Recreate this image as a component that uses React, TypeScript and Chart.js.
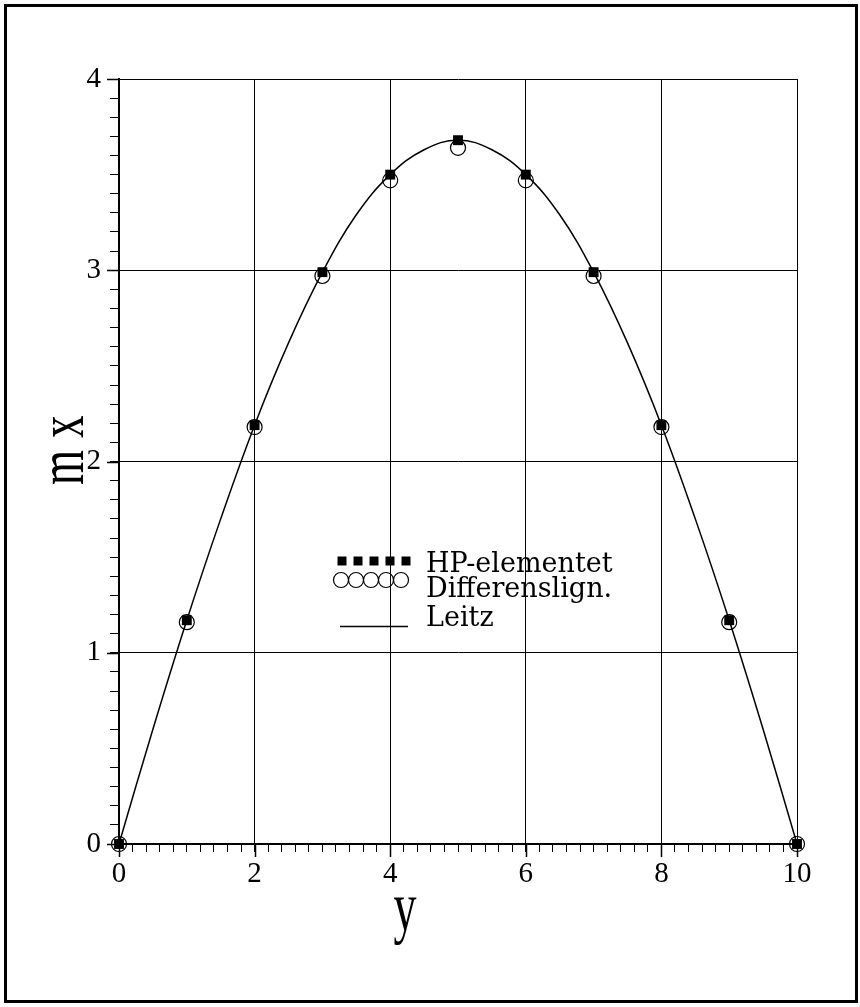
import React, { useEffect, useRef } from "react";
import { Chart, registerables } from "chart.js";

Chart.register(...registerables);

// ---- data ----
const xCategories = [0, 1, 2, 3, 4, 5, 6, 7, 8, 9, 10];
const hpValues = [0, 1.17, 2.19, 2.99, 3.5, 3.68, 3.5, 2.99, 2.19, 1.17, 0];
const diffValues = [0, 1.16, 2.18, 2.97, 3.47, 3.64, 3.47, 2.97, 2.18, 1.16, 0];
const leitzX = [0, 0.5, 1, 1.5, 2, 2.5, 3, 3.5, 4, 4.5, 5, 5.5, 6, 6.5, 7, 7.5, 8, 8.5, 9, 9.5, 10];
const leitzValues = [0, 0.6, 1.17, 1.7, 2.19, 2.62, 2.99, 3.29, 3.5, 3.63, 3.68, 3.63, 3.5, 3.29, 2.99, 2.62, 2.19, 1.7, 1.17, 0.6, 0];
const xTickLabels = [0, 2, 4, 6, 8, 10];
const yTickLabels = [0, 1, 2, 3, 4];
const seriesNames = ["HP-elementet", "Differenslign.", "Leitz"];
const xTitle = "y";
const yTitle = "mx";

const near = (v: number, arr: number[]) => arr.some((a) => Math.abs(a - v) < 1e-6);

const decorPlugin = {
  id: "decor",
  afterDraw(chart: any) {
    const { ctx, scales } = chart;
    const x = scales.x;
    const y = scales.y;
    ctx.save();
    // outer frame
    ctx.strokeStyle = "#000";
    ctx.lineWidth = 3;
    ctx.strokeRect(5.5, 5.5, 851, 996);

    // longer major ticks
    ctx.lineWidth = 1.5;
    ctx.beginPath();
    xTickLabels.forEach((v) => {
      const px = Math.round(x.getPixelForValue(v)) + 0.5;
      ctx.moveTo(px, y.bottom);
      ctx.lineTo(px, y.bottom + 13);
    });
    yTickLabels.forEach((v) => {
      const py = Math.round(y.getPixelForValue(v)) + 0.5;
      ctx.moveTo(x.left - 12, py);
      ctx.lineTo(x.left, py);
    });
    ctx.stroke();

    ctx.fillStyle = "#000";
    // axis titles (tall serif)
    ctx.font = "46px 'Liberation Serif'";
    ctx.textAlign = "center";
    ctx.textBaseline = "alphabetic";
    ctx.save();
    ctx.translate(405, 930);
    ctx.scale(1, 1.5);
    ctx.fillText(xTitle, 0, 0);
    ctx.restore();

    ctx.font = "45px 'Liberation Serif'";
    ctx.save();
    ctx.translate(83, 485);
    ctx.rotate(-Math.PI / 2);
    ctx.scale(1, 1.45);
    ctx.textAlign = "left";
    (ctx as any).letterSpacing = "12px";
    ctx.fillText(yTitle, 0, 0);
    ctx.restore();

    // legend
    for (let i = 0; i < 5; i++) {
      ctx.fillRect(342 + 16 * i - 4.5, 561 - 4.5, 9, 9);
    }
    ctx.lineWidth = 1.2;
    for (let i = 0; i < 5; i++) {
      ctx.beginPath();
      ctx.arc(341 + 15 * i, 580, 7.5, 0, Math.PI * 2);
      ctx.stroke();
    }
    ctx.lineWidth = 1.3;
    ctx.beginPath();
    ctx.moveTo(340, 626.5);
    ctx.lineTo(408, 626.5);
    ctx.stroke();

    ctx.font = "27px 'DejaVu Serif'";
    ctx.textAlign = "left";
    ctx.fillText(seriesNames[0], 426, 572);
    ctx.fillText(seriesNames[1], 426, 597);
    ctx.fillText(seriesNames[2], 426, 626);
    ctx.restore();
  },
};

export default function App() {
  const ref = useRef<HTMLCanvasElement | null>(null);

  useEffect(() => {
    if (!ref.current) return;
    const chart = new Chart(ref.current, {
      type: "scatter",
      data: {
        datasets: [
          {
            label: seriesNames[0],
            data: xCategories.map((v, i) => ({ x: v, y: hpValues[i] })),
            pointStyle: "rect",
            pointRadius: 7,
            backgroundColor: "#000",
            borderColor: "#000",
            borderWidth: 0,
            showLine: false,
            clip: false,
            order: 1,
          } as any,
          {
            label: seriesNames[1],
            data: xCategories.map((v, i) => ({ x: v, y: diffValues[i] })),
            pointStyle: "circle",
            pointRadius: 7.5,
            backgroundColor: "rgba(0,0,0,0)",
            borderColor: "#000",
            borderWidth: 1.2,
            showLine: false,
            clip: false,
            order: 2,
          } as any,
          {
            label: seriesNames[2],
            data: leitzX.map((v, i) => ({ x: v, y: leitzValues[i] })),
            showLine: true,
            pointRadius: 0,
            borderColor: "#000",
            borderWidth: 1.5,
            tension: 0.4,
            fill: false,
            order: 3,
          } as any,
        ],
      },
      options: {
        animation: false,
        responsive: false,
        devicePixelRatio: 1,
        layout: { padding: { left: 0, top: 79, right: 63, bottom: 0 } },
        plugins: { legend: { display: false }, tooltip: { enabled: false } },
        scales: {
          x: {
            type: "linear",
            min: 0,
            max: 10,
            afterFit: (s: any) => {
              s.height = 163;
            },
            ticks: {
              stepSize: 0.2,
              autoSkip: false,
              maxRotation: 0,
              padding: 5,
              color: "#000",
              font: { family: "'Liberation Serif'", size: 29 },
              callback: (v: any) => (near(Number(v), xTickLabels) ? String(Math.round(Number(v))) : ""),
            },
            grid: {
              color: (c: any) => (c.tick && near(c.tick.value, xTickLabels) ? "#000" : "rgba(0,0,0,0)"),
              tickColor: "#000",
              tickLength: 8,
              lineWidth: 1,
            },
            border: { display: true, color: "#000", width: 2 },
          },
          y: {
            type: "linear",
            min: 0,
            max: 4,
            afterFit: (s: any) => {
              s.width = 119;
            },
            ticks: {
              stepSize: 0.1,
              autoSkip: false,
              padding: 9,
              color: "#000",
              font: { family: "'Liberation Serif'", size: 29 },
              callback: (v: any) => (near(Number(v), yTickLabels) ? String(Math.round(Number(v))) : ""),
            },
            grid: {
              color: (c: any) => (c.tick && near(c.tick.value, yTickLabels) ? "#000" : "rgba(0,0,0,0)"),
              tickColor: "#000",
              tickLength: 9,
              lineWidth: 1,
            },
            border: { display: true, color: "#000", width: 2 },
          },
        },
      },
      plugins: [decorPlugin],
    });
    return () => chart.destroy();
  }, []);

  return (
    <canvas
      ref={ref}
      width={860}
      height={1007}
      style={{ position: "absolute", left: 0, top: 0, display: "block" }}
    />
  );
}
